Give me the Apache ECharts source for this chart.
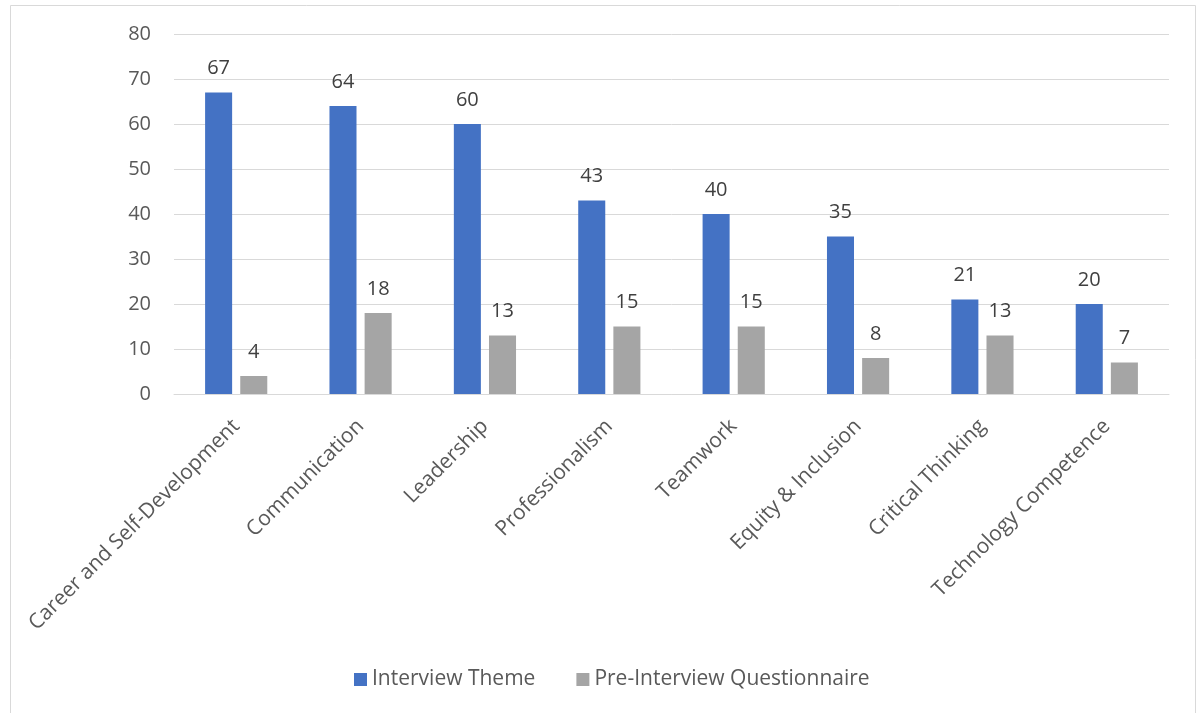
<!DOCTYPE html>
<html>
<head>
<meta charset="utf-8">
<script src="https://cdn.jsdelivr.net/npm/echarts@6/dist/echarts.min.js"></script>
<style>
html,body{margin:0;padding:0;background:#fff;}
#main{width:1198px;height:713px;}
</style>
</head>
<body>
<div id="main"></div>
<script>
const categories = ["Career and Self-Development","Communication","Leadership","Professionalism","Teamwork","Equity & Inclusion","Critical Thinking","Technology Competence"];
const interviewTheme = [67,64,60,43,40,35,21,20];
const preInterview = [4,18,13,15,15,8,13,7];
const seriesNames = ["Interview Theme","Pre-Interview Questionnaire"];
const yTicks = {min:0, max:80, interval:10};

const FONT = '"Open Sans", "Noto Sans", sans-serif';
const chart = echarts.init(document.getElementById('main'), null, {renderer:'canvas'});
const labelStyle = {show:true, position:'top', distance:14, color:'#404040', fontSize:20, fontFamily:FONT};
chart.setOption({
  animation:false,
  textStyle:{fontFamily:FONT},
  graphic:[{type:'rect', shape:{x:10.5,y:5.5,width:1185,height:720}, style:{fill:'none', stroke:'#d9d9d9', lineWidth:1}, silent:true}],
  grid:{left:174, right:29, top:34, bottom:319, containLabel:false},
  legend:{
    data:seriesNames, left:349, top:664, itemWidth:13, itemHeight:13, itemGap:41,
    icon:'rect',
    textStyle:{color:'#595959', fontSize:21, fontFamily:FONT}
  },
  xAxis:{
    type:'category', data:categories,
    axisLine:{show:true, lineStyle:{color:'#d9d9d9', width:1}},
    axisTick:{show:false},
    axisLabel:{rotate:45, interval:0, margin:29, color:'#595959', fontSize:21, fontFamily:FONT}
  },
  yAxis:{
    type:'value', min:yTicks.min, max:yTicks.max, interval:yTicks.interval,
    axisLine:{show:false}, axisTick:{show:false},
    axisLabel:{margin:23, color:'#595959', fontSize:20, fontFamily:FONT},
    splitLine:{lineStyle:{color:'#d9d9d9', width:1}}
  },
  series:[
    {name:seriesNames[0], type:'bar', data:interviewTheme, barGap:'30%', barCategoryGap:'50%',
     itemStyle:{color:'#4472C4'}, label:labelStyle},
    {name:seriesNames[1], type:'bar', data:preInterview, barGap:'30%', barCategoryGap:'50%',
     itemStyle:{color:'#A5A5A5'}, label:labelStyle}
  ]
});
</script>
</body>
</html>
